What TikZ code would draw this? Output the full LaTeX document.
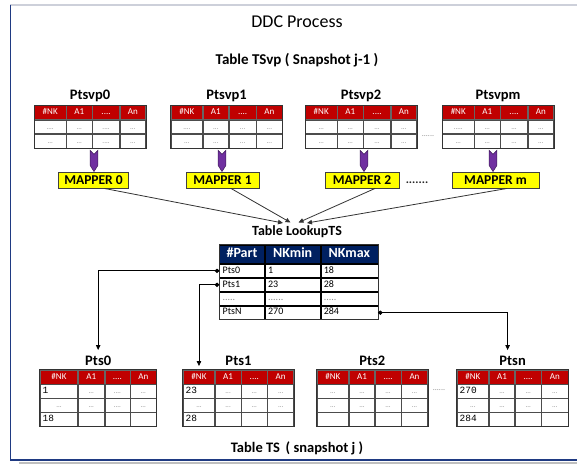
\documentclass[tikz,border=0pt]{standalone}
\usepackage{fontspec}
\setmainfont{Carlito}
\newfontfamily\monofont{Liberation Mono}
\usetikzlibrary{matrix,arrows.meta,calc}
\definecolor{hdrred}{HTML}{C00000}
\definecolor{hdrnavy}{HTML}{002060}
\definecolor{mapyellow}{HTML}{FFFF00}
\definecolor{mappurple}{HTML}{7030A0}
\definecolor{framenavy}{HTML}{1F3A82}
\definecolor{topgray}{HTML}{CDD0DA}
\newcommand\fsz[1]{\fontsize{#1}{#1}\selectfont}
% purple feed arrow from a partition table down into its mapper
\newcommand\mapperfeed[3]{%
  \filldraw[feed] let \p1=([xshift=#3]#2.north), \p2=(#1.south) in
    (\x1-3.8pt,\y2-2pt) -- (\x1,\y2-6pt) -- (\x1+3.8pt,\y2-2pt) --
    (\x1+3.8pt,\y1+6pt) -- (\x1,\y1) -- (\x1-3.8pt,\y1+6pt) -- cycle;}
\begin{document}
\begin{tikzpicture}[x=1pt,y=-1pt,
  cell/.style={draw=black!70, line width=0.65pt, inner xsep=2.5pt, inner ysep=0pt,
    outer sep=0pt, anchor=center, align=center, text=black!45, font=\fsz{7},
    text height=6pt, text depth=1.5pt},
  hdrcell/.style={fill=hdrred, text=white, font=\fsz{9}, minimum height=14pt, draw=black!60},
  numcell/.style={align=left, text=black, font=\monofont\fsz{9.5}},
  smalltab/.style={matrix of nodes, nodes in empty cells, inner sep=0pt,
    column sep=0pt, row sep=0pt, anchor=north west,
    nodes={cell, minimum height=#1}, row 1/.style={nodes={hdrcell}}},
  colw/.style n args={4}{column 1/.style={nodes={text width=#1}},
    column 2/.style={nodes={text width=#2}}, column 3/.style={nodes={text width=#3}},
    column 4/.style={nodes={text width=#4}}},
  lktab/.style={matrix of nodes, nodes in empty cells, inner sep=0pt,
    column sep=0pt, row sep=0pt, anchor=north west,
    nodes={cell, draw=black, align=left, text=black, font=\fsz{10},
      minimum height=13.3pt, inner xsep=3pt},
    row 1/.style={nodes={fill=hdrnavy, text=white, font=\bfseries\fsz{14},
      align=center, minimum height=18.5pt, text height=9.5pt, text depth=2.5pt}},
    column 1/.style={nodes={text width=39pt}},
    column 2/.style={nodes={text width=49pt}},
    column 3/.style={nodes={text width=51pt}}},
  tabframe/.style={draw=black!80, line width=1pt},
  tlabel/.style={font=\bfseries\fsz{14.5}, inner sep=0pt},
  mapper/.style={draw=black!75, line width=0.9pt, fill=mapyellow,
    font=\bfseries\fsz{13.5}, minimum height=16pt, inner sep=0pt},
  feed/.style={fill=mappurple, draw=mappurple!55!black, line width=0.5pt},
  mapline/.style={draw=black!80, line width=0.8pt, -{Triangle[length=5pt,width=4.5pt]}},
  lkline/.style={draw=black, line width=0.75pt,
    {Diamond[length=5pt,width=4.5pt]}-{Triangle[length=5pt,width=4.5pt]}},
  dots/.style={text=black!45, font=\fsz{8}, inner sep=0pt}
]
\useasboundingbox (0,0) rectangle (577,464);
\fill[white] (0,0) rectangle (577,464);

% page frame
\draw[topgray, line width=1.2pt] (10,5) -- (577,5);
\fill[black!25] (19,461.6) rectangle (577,464);
\draw[framenavy, line width=1.3pt] (10.5,5) -- (10.5,460) -- (577,460);

% titles
\node[font=\fsz{18}, inner sep=0pt] (title) at (297,22) {DDC Process};
\node[font=\bfseries\fsz{15}, inner sep=0pt] (tsvp) at (297,60) {Table TSvp ( Snapshot j-1 )};
\node[font=\bfseries\fsz{14.5}, inner sep=0pt] (tts) at (297,448) {Table TS \,( snapshot j )};

% snapshot j-1 partitions
\matrix[smalltab=13.5pt, colw={26.4pt}{20.4pt}{21.8pt}{20.4pt}] (svp0) at (34,105) {
  \#NK & A1 & .... & An \\
  .... & ... & .... & ... \\
  ... & ... & .... & ... \\
};
\matrix[smalltab=13.5pt, colw={26.4pt}{20.4pt}{21.8pt}{20.4pt}] (svp1) at (170.6,105) {
  \#NK & A1 & .... & An \\
  .... & ... & ... & ... \\
  ... & ... & ... & ... \\
};
\matrix[smalltab=13.5pt, colw={26.4pt}{20.4pt}{21.8pt}{20.4pt}] (svp2) at (305,105) {
  \#NK & A1 & .... & An \\
  ... & ... & ... & ... \\
  ... & ... & ... & ... \\
};
\matrix[smalltab=13.5pt, colw={26.4pt}{20.4pt}{21.8pt}{20.4pt}] (svpm) at (442,105) {
  \#NK & A1 & .... & An \\
  ..... & ... & ... & ... \\
  ... & ... & ... & ... \\
};
\node[tlabel] (lab-svp0) at ([yshift=9pt]svp0.north) {Ptsvp0};
\node[tlabel] (lab-svp1) at ([yshift=9pt]svp1.north) {Ptsvp1};
\node[tlabel] (lab-svp2) at ([yshift=9pt]svp2.north) {Ptsvp2};
\node[tlabel] (lab-svpm) at ([yshift=9pt]svpm.north) {Ptsvpm};
\node[dots] (dots-top) at (428,136) {......};

% mappers
\node[mapper, minimum width=70pt] (M0) at (93.5,180) {MAPPER 0};
\node[mapper, minimum width=73pt] (M1) at (222.5,180) {MAPPER 1};
\node[mapper, minimum width=74pt] (M2) at (362,180) {MAPPER 2};
\node[mapper, minimum width=87pt] (Mm) at (495.5,180) {MAPPER m};
\node[font=\bfseries\fsz{12}, text=black!85, inner sep=0pt] (mdots) at (417,182.5) {.......};

\mapperfeed{svp0}{M0}{0.5pt}
\mapperfeed{svp1}{M1}{-0.5pt}
\mapperfeed{svp2}{M2}{2pt}
\mapperfeed{svpm}{Mm}{-2.5pt}

% lookup table
\node[font=\bfseries\fsz{14}, inner sep=0pt] (lkT) at (297,231.5) {Table LookupTS};
\matrix[lktab] (lk) at (219,244.5) {
  \#Part & NKmin & NKmax \\
  Pts0 & 1 & 18 \\
  Pts1 & 23 & 28 \\
  |[text=black!45]| ..... & |[text=black!45]| ...... & |[text=black!45]| ..... \\
  PtsN & 270 & 284 \\
};

\coordinate (tip0) at (283,223);
\coordinate (tip1) at (290.5,222.5);
\coordinate (tip2) at (298.5,222.5);
\coordinate (tipm) at (307,223);
\draw[mapline] ([xshift=11pt]M0.south) -- (tip0);
\draw[mapline] ([xshift=8.5pt]M1.south) -- (tip1);
\draw[mapline] ([xshift=13pt]M2.south) -- (tip2);
\draw[mapline] ([xshift=11.5pt]Mm.south) -- (tipm);

% snapshot j partitions
\matrix[smalltab=13.3pt, colw={32.5pt}{20.8pt}{20pt}{20.6pt}] (ts0) at (39.7,369.5) {
  \#NK & A1 & .... & An \\
  |[numcell]| 1 & ... & .... & ... \\
  ... & ... & .... & ... \\
  |[numcell]| 18 & & & \\
};
\matrix[smalltab=13.3pt, colw={26.5pt}{20.5pt}{20.5pt}{21pt}] (ts1) at (182.7,369.5) {
  \#NK & A1 & .... & An \\
  |[numcell]| 23 & ... & ... & ... \\
  ... & ... & ... & ... \\
  |[numcell]| 28 & & & \\
};
\matrix[smalltab=13.3pt, colw={26.5pt}{20.5pt}{20.5pt}{21pt}] (ts2) at (316.5,369.5) {
  \#NK & A1 & .... & An \\
  ... & ... & ... & ... \\
  ... & ... & ... & ... \\
  & & & \\
};
\matrix[smalltab=13.3pt, colw={26.5pt}{20.5pt}{20.5pt}{21.5pt}] (tsn) at (456.6,369.5) {
  \#NK & A1 & .... & An \\
  |[numcell]| 270 & ... & ... & ... \\
  ... & ... & ... & ... \\
  |[numcell]| 284 & & & \\
};
\node[tlabel] (lab-ts0) at ([yshift=8.5pt]ts0.north) {Pts0};
\node[tlabel] (lab-ts1) at ([yshift=8.5pt]ts1.north) {Pts1};
\node[tlabel] (lab-ts2) at ([yshift=8.5pt]ts2.north) {Pts2};
\node[tlabel] (lab-tsn) at ([yshift=8.5pt]tsn.north) {Ptsn};
\node[dots] (dots-bot) at (439,390) {......};

\foreach \t in {svp0,svp1,svp2,svpm,ts0,ts1,ts2,tsn,lk}
  \draw[tabframe] (\t.north west) rectangle (\t.south east);

% lookup entries pointing to their partitions
\draw[lkline] (lk-2-1.west) -| ([yshift=6pt]lab-ts0.north);
\draw[lkline] (lk-3-1.west) -| ([yshift=4pt]ts1-1-1.north);
\draw[lkline] (lk-5-3.east) -| ([xshift=-5pt,yshift=6pt]lab-tsn.north);
\end{tikzpicture}
\end{document}
